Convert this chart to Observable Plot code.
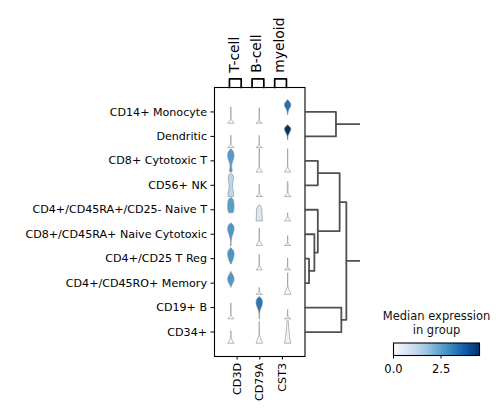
<!DOCTYPE html>
<html><head><meta charset="utf-8">
<script src="https://cdn.jsdelivr.net/npm/d3@7"></script>
<script src="https://cdn.jsdelivr.net/npm/@observablehq/plot@0.6"></script>
<style>
body{margin:0;background:#fff;}
#chart{position:relative;width:500px;height:417px;font-family:"DejaVu Sans",sans-serif;}
#chart svg{position:absolute;left:0;top:0;}
</style></head><body><div id="chart"></div>
<script>
// ---------- data ----------
const rows = ["CD14+ Monocyte","Dendritic","CD8+ Cytotoxic T","CD56+ NK","CD4+/CD45RA+/CD25- Naive T","CD8+/CD45RA+ Naive Cytotoxic","CD4+/CD25 T Reg","CD4+/CD45RO+ Memory","CD19+ B","CD34+"];
const genes = ["CD3D","CD79A","CST3"];
const groups = ["T-cell","B-cell","myeloid"];
// median expression per row (colour)
const medianCD3D  = [0, 0, 2.6, 1.25, 2.55, 2.7, 2.75, 2.65, 0, 0];
const medianCD79A = [0, 0, 0, 0, 0.7, 0, 0, 0, 3.3, 0];
const medianCST3  = [3.4, 4.52, 0, 0, 0, 0, 0, 0, 0, 0.25];
// violin density profiles: [low, high (fraction of row range), relative widths from low to high]
const shapeCD3D = [
  [0, 0.68, [1, 0.5, 0.12, 0.06, 0.05, 0.05, 0.04, 0.04, 0.03]],
  [0, 0.51, [1, 0.4, 0.1, 0.06, 0.05, 0.04, 0.03]],
  [0, 0.98, [0.3, 0.4, 0.3, 0.25, 0.3, 0.45, 0.65, 0.85, 0.97, 1.0, 0.9, 0.65, 0.1]],
  [0, 0.95, [0.85, 0.9, 0.8, 0.65, 0.55, 0.55, 0.6, 0.7, 0.8, 0.8, 0.5]],
  [0.35, 0.98, [0.6, 0.85, 0.95, 1.0, 1.0, 0.95, 0.9, 0.75, 0.35]],
  [0, 0.96, [0.15, 0.06, 0.08, 0.15, 0.25, 0.4, 0.6, 0.8, 0.95, 1.0, 0.92, 0.65, 0.1]],
  [0.25, 0.94, [0.05, 0.3, 0.55, 0.75, 0.9, 0.97, 1.0, 0.9, 0.6, 0.05]],
  [0.3, 0.97, [0.04, 0.25, 0.55, 0.85, 1.0, 0.95, 0.7, 0.35, 0.04]],
  [0, 0.66, [1, 0.35, 0.07, 0.05, 0.04, 0.04, 0.04, 0.03]],
  [0, 0.52, [1, 0.6, 0.25, 0.06, 0.04, 0.04, 0.03]]
];
const shapeCD79A = [
  [0, 0.64, [1, 0.2, 0.05, 0.05, 0.04, 0.04, 0.04, 0.04, 0.03]],
  [0, 0.51, [1, 0.2, 0.05, 0.04, 0.04, 0.04, 0.03]],
  [0, 0.98, [1, 0.6, 0.25, 0.06, 0.04, 0.04, 0.04, 0.04, 0.04, 0.04, 0.04, 0.03, 0.03]],
  [0, 0.52, [1, 0.3, 0.06, 0.05, 0.04, 0.04, 0.03]],
  [0, 0.68, [1.0, 0.95, 0.9, 0.9, 0.88, 0.85, 0.8, 0.6, 0.15]],
  [0, 0.73, [1, 0.55, 0.2, 0.06, 0.04, 0.04, 0.04, 0.04, 0.03]],
  [0, 0.64, [1, 0.45, 0.1, 0.05, 0.04, 0.04, 0.04, 0.03]],
  [0, 0.28, [1, 0.2, 0.05, 0.03]],
  [0, 0.94, [0.1, 0.04, 0.05, 0.12, 0.22, 0.45, 0.7, 0.9, 1.0, 0.95, 0.7, 0.1]],
  [0, 0.92, [1, 0.8, 0.55, 0.35, 0.15, 0.06, 0.05, 0.04, 0.04, 0.04, 0.04, 0.03]]
];
const shapeCST3 = [
  [0.35, 1.0, [0.04, 0.08, 0.2, 0.4, 0.75, 1.0, 0.95, 0.55, 0.05]],
  [0.33, 0.97, [0.03, 0.05, 0.12, 0.3, 0.6, 0.9, 1.0, 0.65, 0.1]],
  [0, 0.98, [1, 0.6, 0.25, 0.07, 0.05, 0.04, 0.04, 0.04, 0.04, 0.04, 0.04, 0.03, 0.03]],
  [0, 0.63, [1, 0.45, 0.1, 0.07, 0.12, 0.15, 0.08, 0.03]],
  [0, 0.33, [1, 0.5, 0.15, 0.05, 0.03]],
  [0, 0.41, [1, 0.2, 0.05, 0.04, 0.04, 0.03]],
  [0, 0.5, [1, 0.15, 0.05, 0.04, 0.04, 0.03, 0.03]],
  [0, 0.9, [1, 0.75, 0.5, 0.25, 0.06, 0.04, 0.04, 0.04, 0.04, 0.03, 0.03]],
  [0, 0.38, [1, 0.15, 0.05, 0.04, 0.03]],
  [0, 0.95, [1, 0.85, 0.72, 0.62, 0.55, 0.47, 0.4, 0.35, 0.3, 0.28, 0.2]]
];
// dendrogram merges (scipy style: leaves 0..9 = rows, new nodes 10..)
const dendroMerge = [
  [6, 7, 0.073],
  [5, 10, 0.169],
  [4, 11, 0.231],
  [2, 3, 0.231],
  [13, 12, 0.624],
  [8, 9, 0.655],
  [14, 15, 0.745],
  [0, 1, 0.558],
  [17, 16, 1.08]
];
const colorMax = 4.52;
const colorTicks = [0, 2.5];
const colorTitle = "Median expression\nin group";

// ---------- layout constants ----------
const W = 500, H = 417;
const FONT = "DejaVu Sans";
const rowHalf = 0.479;         // half of row range (row units)
const violinSpread = 1.255;    // spacing between violin centres (x units)
const violinHalf = 0.142;      // max half width (x units)

const medians = [medianCD3D, medianCD79A, medianCST3];
const shapes = [shapeCD3D, shapeCD79A, shapeCST3];
const pts = [];
genes.forEach((g, gi) => {
  const c = 2 + (gi - 1) * violinSpread;
  rows.forEach((r, ri) => {
    const [lo, hi, w] = shapes[gi][ri];
    const n = w.length;
    const arr = [];
    for (let j = 0; j < n; j++) {
      const f = lo + (hi - lo) * j / (n - 1);
      const y = (ri + 1) + rowHalf - f * 2 * rowHalf;
      arr.push({id: g + "|" + r, y, x1: c - w[j] * violinHalf, x2: c + w[j] * violinHalf, med: medians[gi][ri]});
    }
    arr.reverse();
    pts.push(...arr);
  });
});

const brackets = [];
groups.forEach((g, gi) => {
  const c = gi + 1 - 0.08;
  [[c - 0.26, 0], [c - 0.26, -0.356], [c + 0.26, -0.356], [c + 0.26, 0]].forEach(([x, y]) => brackets.push({g, x, y}));
});
const groupLabels = groups.map((g, gi) => ({g, x: gi + 1 - 0.12, y: -0.6}));

const colorScale = {type: "linear", scheme: "blues", domain: [0, colorMax]};

const main = Plot.plot({
  width: W, height: H,
  marginLeft: 214, marginRight: 195.5, marginTop: 87, marginBottom: 61,
  style: {background: "transparent", fontFamily: FONT, fontSize: "11.1px", color: "black", overflow: "visible"},
  x: {domain: [0, 4], ticks: [1, 2, 3], tickFormat: d => genes[d - 1], tickRotate: -90, tickSize: 3.5, tickPadding: 3, label: null},
  y: {domain: [0, 11], reverse: true, ticks: d3.range(1, 11), tickFormat: d => rows[d - 1], tickSize: 3.5, tickPadding: 4, label: null},
  color: colorScale,
  marks: [
    Plot.areaX(pts, {y: "y", x1: "x1", x2: "x2", z: "id", fill: "med", stroke: "#8a8a8a", strokeWidth: 0.6, curve: "monotone-y"}),
    Plot.frame({stroke: "black", strokeWidth: 1.1}),
    Plot.line(brackets, {x: "x", y: "y", z: "g", stroke: "black", strokeWidth: 1.7}),
    Plot.text(groupLabels, {x: "x", y: "y", text: "g", rotate: -90, textAnchor: "start", fontSize: 13.9, fill: "black"})
  ]
});

// dendrogram
const nodes = rows.map((r, i) => ({y: i + 1, h: 0}));
const dsegs = [];
dendroMerge.forEach(([a, b, h], k) => {
  const A = nodes[a], B = nodes[b];
  [[A.h, A.y], [h, A.y], [h, B.y], [B.h, B.y]].forEach(([hh, yy]) => dsegs.push({k, h: hh, y: yy}));
  nodes.push({y: (A.y + B.y) / 2, h});
});
const dendro = Plot.plot({
  width: W, height: H,
  marginLeft: 304.5, marginRight: 140, marginTop: 87, marginBottom: 61,
  style: {background: "transparent"},
  x: {domain: [0, 1], axis: null},
  y: {domain: [0, 11], reverse: true, axis: null},
  marks: [
    Plot.line(dsegs, {x: "h", y: "y", z: "k", stroke: "#505050", strokeWidth: 1.8, clip: true})
  ]
});

// colour bar
const cbar = Plot.plot({
  width: W, height: H,
  marginLeft: 393, marginRight: 21, marginTop: 342.5, marginBottom: 62,
  style: {background: "transparent", fontFamily: FONT, fontSize: "11.5px", color: "black", overflow: "visible"},
  x: {domain: [0, colorMax], ticks: colorTicks, tickFormat: d3.format(".1f"), tickSize: 3.5, tickPadding: 6, label: null},
  y: {domain: [0, 1], axis: null},
  color: colorScale,
  marks: [
    Plot.raster({fill: (x, y) => x, x1: 0, x2: colorMax, y1: 0, y2: 1, width: 172, height: 2, imageRendering: "auto"}),
    Plot.frame({stroke: "black", strokeWidth: 1.1}),
    Plot.text([colorTitle], {frameAnchor: "top", lineAnchor: "bottom", dy: -9.5, lineHeight: 1.2, fill: "#111", fontSize: 11.5})
  ]
});

const el = document.getElementById("chart");
el.append(main, dendro, cbar);
</script></body></html>
